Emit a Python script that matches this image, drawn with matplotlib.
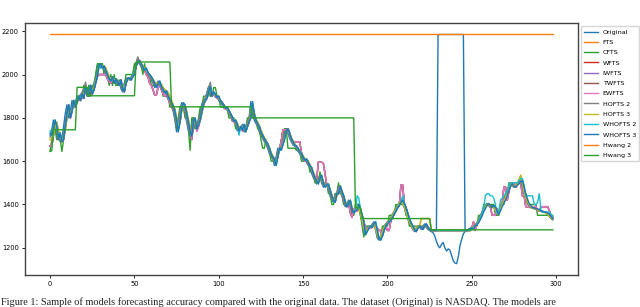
import numpy as np
from matplotlib import pyplot as plt

# NASDAQ sample, 299 points
original = [
    1720, 1745, 1790, 1760, 1700, 1730, 1690, 1700, 1760, 1820,
    1860, 1800, 1830, 1880, 1850, 1870, 1900, 1880, 1910, 1890,
    1940, 1920, 1900, 1950, 1910, 1930, 1960, 1990, 2040, 2050,
    2030, 2040, 2020, 2000, 1980, 1970, 1990, 1960, 1980, 1970,
    1950, 1975, 1935, 1920, 1960, 1980, 1985, 1975, 1990, 2000,
    2040, 2055, 2065, 2050, 2035, 2020, 2030, 2010, 2000, 1990,
    1975, 1960, 1940, 1955, 1970, 1945, 1930, 1915, 1925, 1900,
    1885, 1870, 1855, 1830, 1790, 1735, 1780, 1840, 1870, 1860,
    1820, 1780, 1740, 1715, 1780, 1800, 1750, 1770, 1790, 1830,
    1865, 1880, 1890, 1920, 1945, 1900, 1920, 1910, 1895, 1900,
    1880, 1870, 1860, 1845, 1850, 1835, 1820, 1805, 1785, 1790,
    1770, 1740, 1760, 1745, 1770, 1735, 1760, 1785, 1800, 1875,
    1820, 1790, 1775, 1760, 1735, 1720, 1705, 1690, 1680, 1660,
    1635, 1620, 1610, 1580, 1620, 1660, 1650, 1675, 1700, 1735,
    1750, 1730, 1705, 1690, 1675, 1670, 1660, 1645, 1635, 1620,
    1605, 1610, 1595, 1580, 1570, 1545, 1525, 1510, 1495, 1520,
    1535, 1500, 1480, 1490, 1495, 1465, 1440, 1420, 1410, 1450,
    1450, 1485, 1460, 1440, 1410, 1390, 1405, 1420, 1380, 1360,
    1370, 1375, 1400, 1380, 1350, 1320, 1260, 1275, 1290, 1300,
    1295, 1310, 1320, 1280, 1245, 1235, 1255, 1280, 1300, 1310,
    1320, 1325, 1340, 1355, 1370, 1385, 1395, 1410, 1420, 1405,
    1385, 1360, 1335, 1315, 1300, 1285, 1275, 1290, 1300, 1295,
    1285, 1300, 1310, 1295, 1285, 1280, 1275, 1270, 1255, 1230,
    1210, 1200, 1215, 1225, 1200, 1185, 1195, 1190, 1165, 1140,
    1130, 1127, 1160, 1210, 1240, 1265, 1275, 1280, 1285, 1290,
    1285, 1300, 1305, 1315, 1330, 1345, 1365, 1380, 1395, 1405,
    1395, 1385, 1395, 1390, 1370, 1355, 1370, 1390, 1405, 1420,
    1440, 1465, 1485, 1495, 1485, 1480, 1490, 1495, 1505, 1510,
    1480, 1450, 1425, 1405, 1395, 1385, 1385, 1380, 1380, 1375,
    1370, 1370, 1365, 1365, 1360, 1355, 1345, 1335, 1330,
]

cfts = [
    1645, 1700, 1750, 1750, 1700, 1700, 1700, 1645, 1700, 1750,
    1800, 1850, 1800, 1850, 1850, 1850, 1900, 1900, 1900, 1900,
    1950, 1950, 1900, 1950, 1900, 1950, 1950, 2000, 2050, 2050,
    2050, 2050, 2000, 2000, 2000, 1950, 2000, 1950, 2000, 1950,
    1950, 1950, 1950, 1950, 1950, 2000, 2000, 2000, 2000, 2000,
    2050, 2050, 2080, 2050, 2050, 2000, 2050, 2000, 2000, 2000,
    1950, 1950, 1950, 1950, 1950, 1950, 1950, 1900, 1900, 1900,
    1900, 1850, 1850, 1850, 1800, 1750, 1800, 1850, 1850, 1850,
    1800, 1800, 1750, 1650, 1800, 1800, 1750, 1750, 1800, 1850,
    1850, 1900, 1900, 1900, 1940, 1900, 1900, 1940, 1940, 1900,
    1900, 1850, 1850, 1850, 1850, 1850, 1800, 1800, 1800, 1800,
    1750, 1750, 1750, 1750, 1750, 1750, 1750, 1800, 1800, 1850,
    1800, 1800, 1800, 1750, 1750, 1700, 1660, 1660, 1700, 1660,
    1650, 1600, 1600, 1600, 1600, 1650, 1650, 1700, 1700, 1750,
    1750, 1660, 1660, 1660, 1660, 1660, 1650, 1650, 1650, 1600,
    1600, 1600, 1600, 1600, 1550, 1550, 1550, 1500, 1500, 1500,
    1550, 1500, 1500, 1500, 1500, 1450, 1450, 1400, 1400, 1450,
    1450, 1500, 1450, 1450, 1400, 1400, 1400, 1400, 1400, 1350,
    1350, 1400, 1400, 1400, 1350, 1300, 1250, 1300, 1300, 1300,
    1300, 1300, 1300, 1300, 1250, 1250, 1250, 1300, 1300, 1300,
    1300, 1350, 1350, 1350, 1350, 1400, 1400, 1400, 1400, 1400,
    1400, 1350, 1350, 1300, 1300, 1300, 1300, 1300, 1300, 1300,
    1300, 1300, 1300, 1300, 1300, 1280, 1280, 1280, 1280, 1280,
    1280, 1280, 1280, 1280, 1280, 1280, 1280, 1280, 1280, 1280,
    1280, 1280, 1280, 1280, 1280, 1280, 1280, 1280, 1280, 1280,
    1300, 1300, 1300, 1300, 1350, 1350, 1350, 1400, 1400, 1400,
    1400, 1400, 1400, 1400, 1350, 1350, 1350, 1400, 1400, 1400,
    1450, 1450, 1500, 1500, 1500, 1500, 1500, 1500, 1500, 1500,
    1500, 1450, 1450, 1400, 1400, 1400, 1400, 1400, 1400, 1350,
    1350, 1350, 1350, 1350, 1350, 1350, 1350, 1350, 1350,
]

# pink / red weighted models (EWFTS drawn over WFTS, IWFTS, TWFTS)
ewfts = [
    1670, 1670, 1720, 1770, 1770, 1700, 1720, 1690, 1700, 1760,
    1810, 1860, 1800, 1830, 1880, 1850, 1870, 1900, 1880, 1900,
    1890, 1940, 1920, 1900, 1950, 1910, 1930, 1960, 1990, 2000,
    2000, 2000, 2000, 2000, 1980, 1970, 1960, 1990, 1960, 1980,
    1970, 1950, 1975, 1935, 1920, 1960, 1980, 1985, 1975, 1990,
    2000, 2040, 2055, 2065, 2050, 2035, 2020, 2000, 1990, 1960,
    1950, 1930, 1905, 1905, 1940, 1960, 1930, 1910, 1900, 1910,
    1890, 1870, 1850, 1840, 1820, 1780, 1760, 1780, 1840, 1850,
    1840, 1800, 1760, 1740, 1700, 1770, 1790, 1740, 1760, 1790,
    1830, 1860, 1880, 1890, 1920, 1930, 1900, 1910, 1900, 1890,
    1890, 1880, 1870, 1860, 1840, 1840, 1830, 1810, 1790, 1780,
    1780, 1760, 1740, 1760, 1740, 1760, 1740, 1760, 1780, 1800,
    1860, 1810, 1790, 1770, 1760, 1730, 1720, 1700, 1690, 1680,
    1660, 1630, 1620, 1600, 1590, 1620, 1660, 1690, 1745, 1745,
    1745, 1750, 1730, 1700, 1690, 1690, 1690, 1690, 1690, 1640,
    1620, 1600, 1610, 1590, 1580, 1570, 1545, 1525, 1510, 1595,
    1595, 1595, 1590, 1540, 1490, 1490, 1465, 1440, 1420, 1410,
    1450, 1450, 1485, 1460, 1440, 1410, 1390, 1405, 1360, 1340,
    1380, 1380, 1370, 1400, 1380, 1350, 1320, 1290, 1290, 1290,
    1290, 1295, 1310, 1290, 1290, 1280, 1280, 1255, 1280, 1300,
    1280, 1280, 1325, 1340, 1355, 1370, 1385, 1395, 1490, 1490,
    1405, 1385, 1360, 1335, 1315, 1300, 1285, 1275, 1290, 1300,
    1295, 1285, 1300, 1310, 1295, 1285, 1280, 1280, 1280, 1280,
    1280, 1280, 1280, 1280, 1280, 1280, 1280, 1280, 1280, 1280,
    1280, 1280, 1280, 1280, 1280, 1280, 1280, 1280, 1280, 1280,
    1290, 1320, 1280, 1310, 1320, 1340, 1360, 1380, 1390, 1400,
    1400, 1395, 1350, 1350, 1350, 1380, 1360, 1380, 1400, 1480,
    1480, 1420, 1460, 1490, 1500, 1500, 1480, 1490, 1500, 1500,
    1440, 1440, 1390, 1390, 1390, 1390, 1390, 1390, 1390, 1370,
    1370, 1390, 1390, 1390, 1390, 1390, 1370, 1350, 1340,
]

hofts2 = [
    1710, 1730, 1760, 1780, 1740, 1710, 1720, 1700, 1730, 1780,
    1830, 1850, 1820, 1850, 1870, 1860, 1880, 1900, 1900, 1920,
    1930, 1965, 1920, 1920, 1940, 1920, 1950, 1980, 2010, 2040,
    2040, 2035, 2030, 2010, 1990, 1980, 1985, 1970, 1975, 1975,
    1960, 1965, 1945, 1930, 1950, 1970, 1985, 1980, 1985, 1995,
    2020, 2050, 2080, 2055, 2040, 2030, 2025, 2015, 2000, 1990,
    1980, 1965, 1950, 1950, 1965, 1955, 1935, 1920, 1920, 1910,
    1895, 1880, 1860, 1840, 1810, 1760, 1770, 1830, 1860, 1860,
    1830, 1790, 1750, 1730, 1760, 1790, 1760, 1770, 1790, 1820,
    1850, 1875, 1890, 1910, 1940, 1965, 1910, 1915, 1905, 1895,
    1885, 1875, 1865, 1850, 1850, 1840, 1825, 1810, 1790, 1790,
    1775, 1750, 1755, 1750, 1765, 1745, 1755, 1780, 1800, 1850,
    1830, 1800, 1785, 1770, 1745, 1725, 1710, 1695, 1685, 1665,
    1645, 1625, 1615, 1590, 1610, 1650, 1655, 1670, 1695, 1725,
    1745, 1735, 1710, 1695, 1680, 1670, 1665, 1650, 1640, 1625,
    1610, 1610, 1600, 1585, 1575, 1555, 1530, 1515, 1500, 1515,
    1530, 1505, 1485, 1490, 1495, 1470, 1445, 1425, 1415, 1445,
    1450, 1480, 1465, 1445, 1415, 1395, 1400, 1415, 1390, 1365,
    1370, 1375, 1395, 1385, 1355, 1325, 1270, 1275, 1290, 1300,
    1295, 1305, 1315, 1285, 1250, 1240, 1255, 1280, 1300, 1310,
    1320, 1325, 1340, 1355, 1365, 1380, 1395, 1405, 1415, 1405,
    1390, 1365, 1340, 1320, 1300, 1290, 1280, 1290, 1300, 1295,
    1290, 1300, 1305, 1295, 1285, 1280, 1280, 1280, 1280, 1280,
    1280, 1280, 1280, 1280, 1280, 1280, 1280, 1280, 1280, 1280,
    1280, 1280, 1280, 1280, 1280, 1280, 1280, 1280, 1280, 1280,
    1285, 1300, 1305, 1315, 1330, 1345, 1365, 1380, 1395, 1400,
    1395, 1385, 1390, 1385, 1370, 1360, 1370, 1390, 1405, 1420,
    1440, 1460, 1480, 1490, 1485, 1480, 1490, 1495, 1505, 1510,
    1480, 1450, 1425, 1405, 1395, 1385, 1385, 1380, 1380, 1375,
    1370, 1370, 1365, 1365, 1360, 1355, 1345, 1335, 1330,
]

hofts3 = [
    1700, 1700, 1720, 1760, 1780, 1740, 1710, 1700, 1710, 1740,
    1800, 1850, 1820, 1830, 1870, 1860, 1870, 1890, 1890, 1900,
    1910, 1930, 1925, 1910, 1940, 1930, 1940, 1970, 1990, 2040,
    2045, 2040, 2040, 2030, 2010, 1990, 1980, 1990, 1975, 1980,
    1975, 1960, 1970, 1950, 1940, 1960, 1975, 1985, 1980, 1990,
    2010, 2040, 2055, 2060, 2050, 2040, 2030, 2025, 2010, 2000,
    1990, 1980, 1965, 1960, 1960, 1965, 1955, 1940, 1930, 1925,
    1915, 1900, 1880, 1860, 1840, 1800, 1760, 1780, 1830, 1860,
    1860, 1830, 1790, 1750, 1730, 1770, 1790, 1760, 1770, 1790,
    1820, 1860, 1880, 1890, 1920, 1935, 1910, 1915, 1905, 1900,
    1895, 1880, 1870, 1860, 1850, 1845, 1835, 1820, 1805, 1790,
    1790, 1775, 1755, 1755, 1760, 1750, 1750, 1765, 1790, 1810,
    1860, 1825, 1795, 1780, 1765, 1745, 1725, 1710, 1695, 1680,
    1665, 1640, 1625, 1610, 1595, 1620, 1650, 1660, 1680, 1710,
    1735, 1745, 1730, 1710, 1695, 1680, 1670, 1660, 1650, 1635,
    1625, 1610, 1610, 1600, 1585, 1570, 1550, 1530, 1515, 1505,
    1515, 1530, 1505, 1485, 1490, 1490, 1470, 1445, 1425, 1415,
    1440, 1450, 1475, 1460, 1440, 1415, 1395, 1405, 1415, 1385,
    1365, 1370, 1395, 1385, 1355, 1325, 1290, 1280, 1285, 1295,
    1295, 1300, 1310, 1290, 1260, 1245, 1255, 1275, 1295, 1305,
    1315, 1320, 1335, 1350, 1365, 1380, 1390, 1405, 1415, 1405,
    1390, 1365, 1340, 1320, 1305, 1290, 1280, 1290, 1300, 1295,
    1335, 1335, 1335, 1335, 1335, 1335, 1280, 1280, 1280, 1280,
    1280, 1280, 1280, 1280, 1280, 1280, 1280, 1280, 1280, 1280,
    1280, 1280, 1280, 1280, 1280, 1280, 1280, 1280, 1280, 1280,
    1285, 1295, 1300, 1310, 1325, 1340, 1360, 1375, 1390, 1400,
    1400, 1390, 1390, 1385, 1375, 1360, 1365, 1385, 1400, 1415,
    1435, 1460, 1480, 1490, 1490, 1485, 1490, 1500, 1515, 1535,
    1500, 1460, 1430, 1410, 1400, 1390, 1385, 1380, 1380, 1375,
    1370, 1370, 1365, 1365, 1360, 1355, 1345, 1340, 1335,
]

whofts2 = [
    1740, 1720, 1745, 1790, 1760, 1710, 1730, 1700, 1710, 1760,
    1820, 1860, 1810, 1830, 1880, 1860, 1870, 1900, 1890, 1910,
    1900, 1940, 1930, 1910, 1950, 1920, 1930, 1960, 1990, 2040,
    2040, 2030, 2040, 2020, 2000, 1980, 1970, 1990, 1960, 1980,
    1970, 1950, 1975, 1940, 1925, 1960, 1980, 1985, 1975, 1990,
    2010, 2040, 2055, 2060, 2050, 2035, 2020, 2030, 2010, 2000,
    1990, 1975, 1960, 1940, 1955, 1970, 1945, 1930, 1915, 1925,
    1900, 1885, 1870, 1855, 1830, 1790, 1740, 1780, 1840, 1870,
    1860, 1820, 1780, 1740, 1720, 1780, 1800, 1750, 1770, 1790,
    1830, 1865, 1880, 1890, 1920, 1945, 1900, 1920, 1910, 1895,
    1900, 1880, 1870, 1860, 1845, 1850, 1835, 1820, 1805, 1785,
    1790, 1770, 1720, 1760, 1745, 1770, 1735, 1760, 1785, 1800,
    1875, 1820, 1790, 1775, 1760, 1735, 1720, 1705, 1690, 1680,
    1660, 1635, 1620, 1610, 1580, 1620, 1660, 1650, 1675, 1700,
    1735, 1750, 1730, 1705, 1690, 1675, 1670, 1660, 1645, 1635,
    1620, 1605, 1610, 1595, 1580, 1570, 1545, 1525, 1510, 1495,
    1520, 1535, 1500, 1480, 1490, 1495, 1465, 1440, 1420, 1410,
    1450, 1450, 1485, 1460, 1440, 1410, 1390, 1405, 1420, 1380,
    1360, 1370, 1440, 1430, 1380, 1350, 1320, 1260, 1275, 1290,
    1300, 1295, 1310, 1320, 1280, 1245, 1235, 1255, 1280, 1300,
    1310, 1320, 1325, 1340, 1355, 1370, 1385, 1395, 1410, 1440,
    1405, 1385, 1360, 1335, 1315, 1300, 1285, 1275, 1290, 1300,
    1295, 1285, 1300, 1310, 1295, 1285, 1280, 1280, 1280, 1280,
    1280, 1280, 1280, 1280, 1280, 1280, 1280, 1280, 1280, 1280,
    1280, 1280, 1280, 1280, 1280, 1280, 1280, 1280, 1280, 1280,
    1290, 1290, 1300, 1310, 1320, 1340, 1360, 1380, 1440, 1450,
    1450, 1440, 1440, 1430, 1400, 1360, 1370, 1420, 1430, 1440,
    1450, 1460, 1490, 1500, 1500, 1500, 1500, 1500, 1510, 1520,
    1520, 1490, 1440, 1440, 1440, 1440, 1440, 1400, 1400, 1410,
    1450, 1370, 1365, 1365, 1365, 1365, 1365, 1355, 1345,
]

# WHOFTS 3 jumps to the top partition between t=230 and t=245
whofts3 = [
    1730, 1720, 1745, 1790, 1760, 1700, 1730, 1690, 1700, 1760,
    1820, 1860, 1800, 1830, 1880, 1850, 1870, 1900, 1880, 1910,
    1890, 1940, 1920, 1900, 1950, 1910, 1930, 1960, 1990, 2040,
    2050, 2030, 2040, 2020, 2000, 1980, 1970, 1990, 1960, 1980,
    1970, 1950, 1975, 1935, 1920, 1960, 1980, 1985, 1975, 1990,
    2000, 2040, 2055, 2065, 2050, 2035, 2020, 2030, 2010, 2000,
    1990, 1975, 1960, 1940, 1955, 1970, 1945, 1930, 1915, 1925,
    1900, 1885, 1870, 1855, 1830, 1790, 1735, 1780, 1840, 1870,
    1860, 1820, 1780, 1740, 1715, 1780, 1800, 1750, 1770, 1790,
    1830, 1865, 1880, 1890, 1920, 1945, 1900, 1920, 1910, 1895,
    1900, 1880, 1870, 1860, 1845, 1850, 1835, 1820, 1805, 1785,
    1790, 1770, 1740, 1760, 1745, 1770, 1735, 1760, 1785, 1800,
    1875, 1820, 1790, 1775, 1760, 1735, 1720, 1705, 1690, 1680,
    1660, 1635, 1620, 1610, 1580, 1620, 1660, 1650, 1675, 1700,
    1735, 1750, 1730, 1705, 1690, 1675, 1670, 1660, 1645, 1635,
    1620, 1605, 1610, 1595, 1580, 1570, 1545, 1525, 1510, 1495,
    1520, 1535, 1500, 1480, 1490, 1495, 1465, 1440, 1420, 1410,
    1450, 1450, 1485, 1460, 1440, 1410, 1390, 1405, 1420, 1380,
    1360, 1370, 1375, 1400, 1380, 1350, 1320, 1260, 1275, 1290,
    1300, 1295, 1310, 1320, 1280, 1245, 1235, 1255, 1280, 1300,
    1310, 1320, 1325, 1340, 1355, 1370, 1385, 1395, 1410, 1420,
    1405, 1385, 1360, 1335, 1315, 1300, 1285, 1275, 1290, 1300,
    1295, 1285, 1300, 1310, 1295, 1285, 1280, 1280, 1280, 1280,
    2185, 2185, 2185, 2185, 2185, 2185, 2185, 2185, 2185, 2185,
    2185, 2185, 2185, 2185, 2185, 2185, 1280, 1280, 1285, 1290,
    1290, 1285, 1300, 1305, 1315, 1330, 1345, 1365, 1380, 1395,
    1405, 1395, 1385, 1395, 1390, 1370, 1355, 1370, 1390, 1405,
    1420, 1440, 1465, 1485, 1495, 1485, 1480, 1490, 1495, 1505,
    1510, 1480, 1450, 1425, 1405, 1395, 1385, 1385, 1380, 1380,
    1375, 1370, 1370, 1365, 1365, 1360, 1355, 1345, 1335,
]

# Hwang 2 stays flat on the top partition
hwang2_level = 2185

# Hwang 3 is a step function: level and how many points it holds
hwang3_levels = [1647, 1745, 1941, 1902, 2058, 1851, 1800, 1385, 1335, 1283]
hwang3_runs = [2, 14, 7, 28, 21, 48, 61, 4, 41, 73]

n = len(original)
hwang2 = np.full(n, hwang2_level)
hwang3 = np.repeat(hwang3_levels, hwang3_runs)

# legend order, colours follow the default cycle
series = [
    ('Original', original),
    ('FTS', hofts3),
    ('CFTS', cfts),
    ('WFTS', ewfts),
    ('IWFTS', ewfts),
    ('TWFTS', ewfts),
    ('EWFTS', ewfts),
    ('HOFTS 2', hofts2),
    ('HOFTS 3', hofts3),
    ('WHOFTS 2', whofts2),
    ('WHOFTS 3', whofts3),
    ('Hwang 2', hwang2),
    ('Hwang 3', hwang3),
]

fig = plt.figure(figsize=(6.4, 3.07), dpi=100)
ax = fig.add_axes([0.039, 0.104, 0.864, 0.821])

for name, vals in series:
    ax.plot(np.arange(len(vals)), vals, lw=1.0, label=name)

ax.set_xticks([0, 50, 100, 150, 200, 250, 300])
ax.set_yticks([1200, 1400, 1600, 1800, 2000, 2200])
ax.tick_params(labelsize=4.8, length=2.5, width=0.6, pad=2)
for sp in ax.spines.values():
    sp.set_linewidth(1.0)
    sp.set_color('#444444')

ax.legend(loc='upper left', bbox_to_anchor=(1.0, 1.0), fontsize=4.6,
          handlelength=2.1, labelspacing=0.75, borderpad=0.5)

# caption of the paper along the bottom edge
fig.text(0.002, 0.008, 'Figure 1: Sample of models forecasting accuracy compared with the '
         'original data. The dataset (Original) is NASDAQ. The models are',
         fontsize=7.4, family='Liberation Serif', color='#222222', va='baseline')

fig.savefig('out.png', dpi=100)
